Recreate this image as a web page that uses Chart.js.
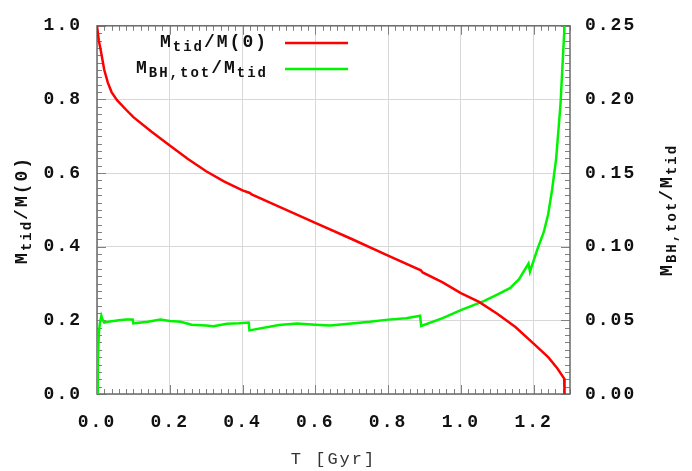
<!DOCTYPE html>
<html>
<head>
<meta charset="utf-8">
<script src="https://cdn.jsdelivr.net/npm/chart.js@4.4.1/dist/chart.umd.min.js"></script>
<style>
  html, body { margin: 0; padding: 0; background: #fff; }
</style>
</head>
<body>
<canvas id="massChart" width="692" height="471"></canvas>
<script>
// ── data ──
// M_tid / M(0)  (left axis)
const redT = [0, 0.005, 0.01, 0.02, 0.03, 0.04, 0.055, 0.08, 0.1, 0.15, 0.2, 0.25, 0.3, 0.35, 0.4, 0.42,
  0.425, 0.5, 0.6, 0.7, 0.8, 0.89, 0.895, 0.95, 1.0, 1.05, 1.1, 1.15, 1.2, 1.24, 1.265, 1.284, 1.285];
const redM = [1.0, 0.96, 0.935, 0.88, 0.845, 0.82, 0.798, 0.772, 0.752, 0.712, 0.675, 0.638, 0.605, 0.577, 0.553, 0.546,
  0.542, 0.509, 0.465, 0.421, 0.376, 0.336, 0.33, 0.303, 0.274, 0.25, 0.218, 0.182, 0.137, 0.1, 0.07, 0.042, 0.0];

// M_BH,tot / M_tid  (right axis)
const greenT = [0, 0.002, 0.005, 0.008, 0.012, 0.016, 0.02, 0.03, 0.046, 0.06, 0.08, 0.098, 0.1, 0.14, 0.174, 0.2,
  0.23, 0.26, 0.3, 0.32, 0.357, 0.39, 0.417, 0.419, 0.5, 0.55, 0.6, 0.641, 0.7, 0.75, 0.8, 0.85, 0.888, 0.891,
  0.95, 1.0, 1.063, 1.1, 1.136, 1.16, 1.186, 1.19, 1.21, 1.228, 1.24, 1.251, 1.262, 1.274, 1.285];
const greenR = [0, 0.02, 0.041, 0.048, 0.053, 0.05, 0.0485, 0.049, 0.0496, 0.05, 0.0505, 0.0505, 0.048, 0.049, 0.0505, 0.0495,
  0.049, 0.047, 0.0465, 0.046, 0.0477, 0.048, 0.0485, 0.0432, 0.0468, 0.0478, 0.047, 0.0465, 0.0478, 0.049, 0.0505, 0.0515, 0.0532, 0.0462,
  0.0515, 0.057, 0.063, 0.0675, 0.072, 0.078, 0.0886, 0.083, 0.098, 0.11, 0.122, 0.139, 0.16, 0.197, 0.25];

const xRange  = [0, 1.3];
const yRange  = [0, 1.0];
const y2Range = [0, 0.25];

const legendLabels = [
  [['M', 0], ['tid', 1], ['/M(0)', 0]],
  [['M', 0], ['BH,tot', 1], ['/M', 0], ['tid', 1]]
];
const leftTitle  = [['M', 0], ['tid', 1], ['/M(0)', 0]];
const rightTitle = [['M', 0], ['BH,tot', 1], ['/M', 0], ['tid', 1]];
const xTitle = 'T [Gyr]';

const RED = '#ff0000', GREEN = '#00f400';
const FONT = '"Liberation Mono", "DejaVu Sans Mono", monospace';

const toXY = (xs, ys) => xs.map((x, i) => ({ x, y: ys[i] }));

// draw text with subscripts, parts = [[text, isSub], ...]
function richWidth(ctx, parts, size, weight) {
  let w = 0;
  parts.forEach(([t, sub]) => {
    ctx.font = weight + ' ' + (sub ? Math.round(size * 0.78) : size) + 'px ' + FONT;
    w += ctx.measureText(t).width;
  });
  return w;
}
function drawRich(ctx, parts, x, y, align, size, weight) {
  const w = richWidth(ctx, parts, size, weight);
  let cx = align === 'right' ? x - w : align === 'center' ? x - w / 2 : x;
  ctx.textAlign = 'left';
  ctx.textBaseline = 'middle';
  parts.forEach(([t, sub]) => {
    ctx.font = weight + ' ' + (sub ? Math.round(size * 0.78) : size) + 'px ' + FONT;
    ctx.fillText(t, cx, sub ? y + 5 : y);
    cx += ctx.measureText(t).width;
  });
}

// frame + inward ticks, gnuplot style
const frameTicks = {
  id: 'frameTicks',
  beforeDraw(chart) {
    chart.ctx.letterSpacing = '2px';
  },
  beforeDatasetsDraw(chart) {
    const { ctx, chartArea: a, scales } = chart;
    ctx.save();
    ctx.strokeStyle = '#808080';
    ctx.lineWidth = 1;
    ctx.beginPath();
    for (let i = 0; i <= 65; i++) {
      const px = Math.round(scales.x.getPixelForValue(i * 0.02)) + 0.5;
      const len = i % 10 === 0 ? 9 : 5;
      ctx.moveTo(px, a.bottom); ctx.lineTo(px, a.bottom - len);
      ctx.moveTo(px, a.top);    ctx.lineTo(px, a.top + len);
    }
    for (let i = 0; i <= 50; i++) {
      const len = i % 10 === 0 ? 9 : 5;
      const py = Math.round(scales.y.getPixelForValue(i * 0.02)) + 0.5;
      ctx.moveTo(a.left, py); ctx.lineTo(a.left + len, py);
      const py2 = Math.round(scales.y2.getPixelForValue(i * 0.005)) + 0.5;
      ctx.moveTo(a.right, py2); ctx.lineTo(a.right - len, py2);
    }
    ctx.stroke();
    ctx.strokeStyle = '#6a6a6a';
    ctx.lineWidth = 1.5;
    ctx.strokeRect(a.left, a.top, a.right - a.left, a.bottom - a.top);
    ctx.restore();
  },
  afterDraw(chart) {
    const { ctx, chartArea: a } = chart;
    ctx.save();
    ctx.fillStyle = '#111';
    ctx.letterSpacing = '2px';
    // legend
    const rows = [43, 69];
    const cols = [RED, GREEN];
    legendLabels.forEach((parts, i) => {
      drawRich(ctx, parts, 268, rows[i] - 1, 'right', 18, 'bold');
      ctx.strokeStyle = cols[i];
      ctx.lineWidth = 2.5;
      ctx.beginPath();
      ctx.moveTo(285, rows[i]); ctx.lineTo(348, rows[i]);
      ctx.stroke();
    });
    // axis titles
    const midY = (a.top + a.bottom) / 2;
    ctx.save();
    ctx.translate(22, midY);
    ctx.rotate(-Math.PI / 2);
    drawRich(ctx, leftTitle, 0, 0, 'center', 18, 'bold');
    ctx.restore();
    ctx.save();
    ctx.translate(667, midY);
    ctx.rotate(-Math.PI / 2);
    drawRich(ctx, rightTitle, 0, 0, 'center', 18, 'bold');
    ctx.restore();
    ctx.font = 'normal 17px ' + FONT;
    ctx.textAlign = 'center';
    ctx.textBaseline = 'middle';
    ctx.fillStyle = '#333';
    ctx.fillText(xTitle, (a.left + a.right) / 2, 459);
    ctx.restore();
  }
};

const tickFont = { family: FONT, size: 18, weight: 'bold' };
const gridOpts = { display: true, drawTicks: false, color: '#d8d8d8', lineWidth: 1 };

new Chart(document.getElementById('massChart').getContext('2d'), {
  type: 'line',
  data: {
    datasets: [
      {
        label: 'M_tid/M(0)',
        data: toXY(redT, redM),
        yAxisID: 'y',
        borderColor: RED,
        borderWidth: 2.5, pointRadius: 0, tension: 0, fill: false
      },
      {
        label: 'M_BH,tot/M_tid',
        data: toXY(greenT, greenR),
        yAxisID: 'y2',
        borderColor: GREEN,
        borderWidth: 2.5, pointRadius: 0, tension: 0, fill: false
      }
    ]
  },
  options: {
    responsive: false, animation: false,
    layout: { padding: { top: 20, left: 0, right: 0, bottom: 0 } },
    plugins: { legend: { display: false }, tooltip: { enabled: false } },
    scales: {
      x: {
        type: 'linear', position: 'bottom', min: xRange[0], max: xRange[1],
        border: { display: false },
        grid: { ...gridOpts, borderDash: [1, 3] },
        ticks: { stepSize: 0.2, includeBounds: false, color: '#111', font: tickFont, padding: 18,
                 maxRotation: 0, callback: v => v.toFixed(1) },
        afterFit: s => { s.height = 77; }
      },
      y: {
        type: 'linear', position: 'left', min: yRange[0], max: yRange[1],
        border: { display: false },
        grid: { ...gridOpts, borderDash: [1, 3] },
        ticks: { stepSize: 0.2, includeBounds: false, color: '#111', font: tickFont, padding: 15,
                 callback: v => v.toFixed(1) },
        afterFit: s => { s.width = 97; }
      },
      y2: {
        type: 'linear', position: 'right', min: y2Range[0], max: y2Range[1],
        border: { display: false },
        grid: { display: false, drawTicks: false },
        ticks: { stepSize: 0.05, includeBounds: false, color: '#111', font: tickFont, padding: 15,
                 callback: v => v.toFixed(2) },
        afterFit: s => { s.width = 122; }
      }
    }
  },
  plugins: [frameTicks]
});
</script>
</body>
</html>
